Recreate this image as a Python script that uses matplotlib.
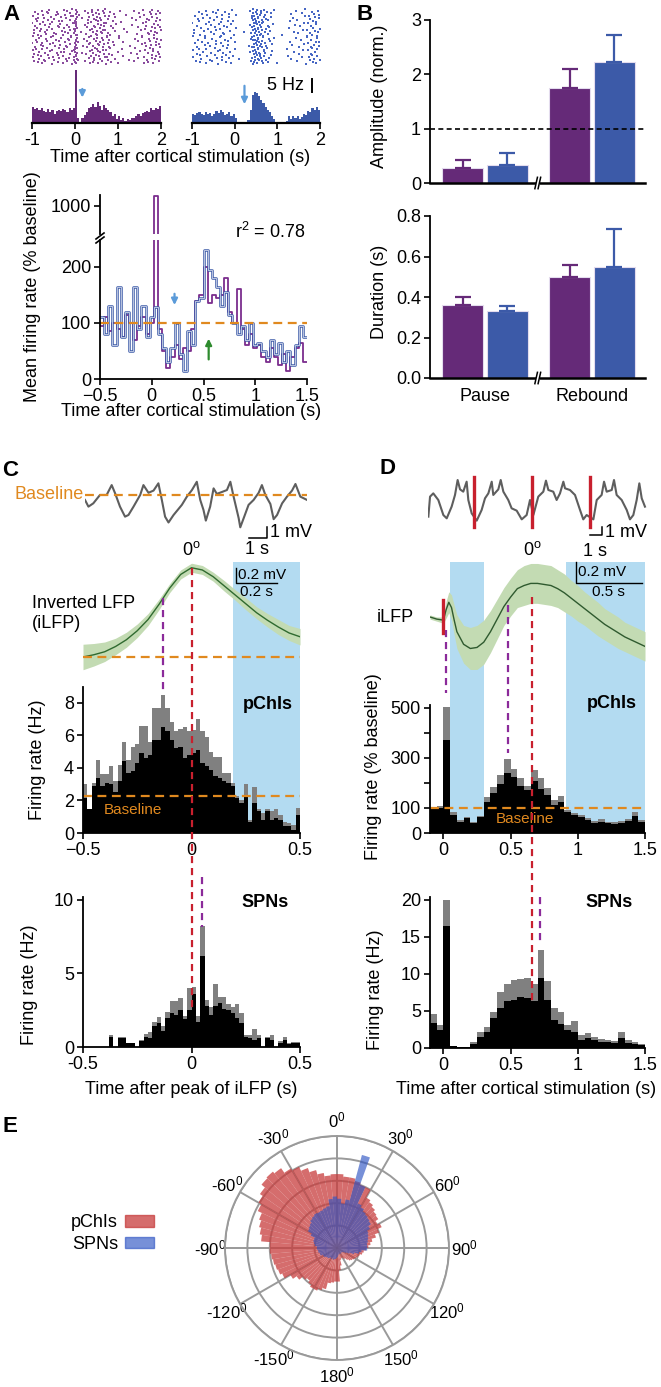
import numpy as np
import matplotlib
matplotlib.use('Agg')
import matplotlib.pyplot as plt
from matplotlib.patches import Rectangle, Patch
from matplotlib.lines import Line2D
from matplotlib.transforms import blended_transform_factory

plt.rcParams['font.family'] = ['Liberation Sans', 'DejaVu Sans']
plt.rcParams['font.size'] = 13
plt.rcParams['mathtext.default'] = 'regular'
plt.rcParams['axes.linewidth'] = 1.3
plt.rcParams['axes.facecolor'] = 'none'
plt.rcParams['xtick.major.width'] = 1.2
plt.rcParams['ytick.major.width'] = 1.2
plt.rcParams['xtick.major.size'] = 4
plt.rcParams['ytick.major.size'] = 4
plt.rcParams['xtick.major.pad'] = 2.5
plt.rcParams['ytick.major.pad'] = 2.5

# colours
PURPLE = '#652a78'
PURPLE_L = '#7b2d8e'
BLUE = '#3c5aa8'
RASTER_P = '#8a4c9e'
RASTER_B = '#4666c4'
ARROW_B = '#5b9bd9'
ORANGE = '#e0891f'
GREEN = '#2e8b2e'
RED = '#c8202e'
DPURPLE = '#8b2a9a'
SHADE = '#b3dbf1'
GRAY = '#808080'

# ---------------- data ----------------
# A: PSTHs (Hz), 0.05 s bins from -1 s
purple_a = [6.0, 5.2, 5.8, 5.0, 5.5, 4.5, 4.0, 5.2, 4.2, 4.8,
            3.5, 4.5, 5.0, 4.6, 5.3, 4.8, 4.0, 5.5, 4.8, 5.8,
            20.0, 2.0, 0.5, 2.0, 3.0, 4.2, 5.5, 6.0, 7.3, 6.0,
            8.0, 6.5, 5.0, 6.8, 5.5, 4.8, 4.2, 2.8, 3.5, 1.5,
            2.5, 1.2, 1.8, 0.8, 1.5, 1.0, 2.0, 1.8, 2.5, 3.2,
            2.8, 3.8, 4.0, 4.5, 4.2, 5.5, 5.0, 5.8, 5.2, 6.3]
blue_a = [3.5, 3.0, 3.8, 4.0, 3.2, 3.0, 4.2, 3.5, 3.8, 2.8,
          3.5, 4.5, 3.8, 5.0, 4.2, 3.0, 3.5, 4.0, 2.5, 3.2,
          1.8, 0.4, 0.2, 0.0, 0.5, 0.3, 1.0, 5.0, 10.5, 11.5,
          11.2, 10.0, 8.5, 7.5, 6.0, 5.0, 4.0, 2.5, 1.5, 0.5,
          0.3, 0.0, 0.5, 0.0, 0.8, 2.5, 1.5, 2.8, 2.0, 2.5,
          1.5, 2.2, 3.5, 3.0, 4.5, 4.0, 5.5, 4.8, 6.0, 5.0]

# A bottom: mean firing rate (% baseline), 0.04 s bins from -0.5 s
purple_b = [95, 110, 85, 100, 90, 75, 115, 100, 70, 95, 110, 80, 100, 1040,
            90, 50, 20, 40, 60, 35, 55, 50, 90, 140, 150, 200, 135, 150, 145, 150,
            180, 120, 100, 160, 90, 60, 80, 55, 60, 40, 30, 55, 40, 25, 45, 15,
            40, 55, 65, 30]
blue_b = [110, 80, 130, 60, 165, 75, 120, 50, 165, 90, 130, 75, 110,
          128, 80, 55, 30, 55, 100, 45, 15, 85, 60, 140, 145, 230, 195, 180, 165,
          130, 155, 115, 100, 80, 95, 70, 100, 60, 65, 50, 40, 70, 45, 65, 30,
          50, 25, 60, 95, 75]

# B: pause / rebound
amp_purple = [0.27, 1.75]
amp_purple_err = [0.15, 0.35]
amp_blue = [0.34, 2.23]
amp_blue_err = [0.21, 0.50]
dur_purple = [0.36, 0.50]
dur_purple_err = [0.04, 0.06]
dur_blue = [0.33, 0.55]
dur_blue_err = [0.025, 0.185]
groups = ['Pause', 'Rebound']

# C: example LFP trace (s, mV relative to baseline)
c_trace_t = [0.00, 0.19, 0.46, 0.83, 1.20, 1.48, 1.67, 1.94, 2.22, 2.41, 2.69, 3.06,
             3.24, 3.52, 3.80, 4.07, 4.26, 4.44, 4.63, 4.91, 5.37, 5.65, 5.93, 6.20,
             6.39, 6.57, 6.70, 6.94, 7.13, 7.31, 7.59, 7.87, 8.06, 8.24, 8.52, 8.61,
             8.83, 9.07, 9.35, 9.63, 9.81, 10.0, 10.28, 10.46, 10.65, 10.93, 11.2,
             11.48, 11.67, 11.94, 12.31]
c_trace_v = [-0.45, -1.06, -0.76, 0.0, 0.0, 0.9, 0.15, -1.06, -1.97, -1.82, -1.06, 0.0,
             0.9, 0.2, 0.4, 1.06, -0.45, -1.97, -2.5, -1.82, -0.9, -0.15, 0.45, 1.2,
             -0.45, -1.36, -2.33, -1.06, 0.6, 0.1, 0.27, 0.45, 1.2, -0.15, -2.1, -2.94,
             -1.97, -0.9, -0.45, 0.2, 0.9, 0.0, -0.82, -2.2, -1.82, -0.76, -0.15,
             0.4, 1.0, -0.15, -0.45]

# C: spike-triggered iLFP (mV) vs time from iLFP peak
c_lfp_t = [-0.5, -0.45, -0.4, -0.35, -0.3, -0.25, -0.2, -0.15, -0.1, -0.05, 0.0,
           0.05, 0.1, 0.15, 0.2, 0.25, 0.3, 0.35, 0.4, 0.45, 0.5]
c_lfp_v = [0.0, 0.03, 0.07, 0.14, 0.23, 0.35, 0.5, 0.7, 0.92, 1.1, 1.19,
           1.16, 1.07, 0.95, 0.83, 0.71, 0.59, 0.49, 0.4, 0.32, 0.27]
c_lfp_sem = [0.17, 0.15, 0.13, 0.11, 0.1, 0.09, 0.08, 0.07, 0.06, 0.06, 0.06,
             0.06, 0.06, 0.07, 0.07, 0.08, 0.08, 0.09, 0.1, 0.1, 0.11]

# C: pChI and SPN histograms (Hz), 0.02 s bins from -0.5 s
c_pchi_all = [3.0, 1.45, 3.05, 4.5, 3.6, 3.6, 4.1, 3.2, 4.2, 5.6,
              4.5, 5.3, 5.5, 6.6, 6.6, 5.6, 7.7, 7.7, 8.5, 7.7,
              6.8, 6.25, 6.4, 6.5, 6.25, 6.35, 7.0, 6.25, 5.9, 5.0,
              4.7, 4.7, 3.7, 3.7, 3.1, 2.25, 2.05, 3.0, 0.8, 2.8,
              1.5, 1.25, 1.45, 1.35, 1.45, 1.1, 0.7, 0.6, 0.5, 1.55]
c_pchi_sub = [2.15, 1.45, 2.9, 3.4, 2.9, 3.1, 3.0, 2.5, 3.2, 4.4,
              3.7, 3.8, 4.3, 4.9, 4.6, 4.8, 5.75, 5.75, 6.55, 6.25,
              5.75, 5.2, 5.3, 4.6, 4.8, 4.9, 5.1, 4.3, 4.1, 3.9,
              3.5, 3.4, 3.2, 3.1, 2.9, 2.15, 1.85, 2.25, 0.7, 1.85,
              1.35, 0.8, 1.35, 0.8, 0.9, 0.8, 0.4, 0.4, 0.2, 1.1]
c_spn_all = [0, 0, 0, 0, 0, 0, 0.85, 0, 0.65, 0.65,
             0.3, 0.3, 0, 0.5, 0.9, 1.05, 1.7, 2.05, 1.4, 2.4,
             3.1, 3.15, 3.3, 2.1, 4.0, 4.1, 2.1, 8.2, 3.2, 2.7,
             4.3, 3.4, 3.4, 2.9, 2.7, 2.9, 2.3, 0.8, 0.8, 1.25,
             0.8, 0, 0.7, 0.8, 0, 0.4, 0.7, 0.25, 0.35, 0.35]
c_spn_sub = [0, 0, 0, 0, 0, 0, 0.7, 0, 0.6, 0.6,
             0.3, 0.3, 0, 0.4, 0.7, 0.6, 1.4, 1.6, 1.1, 2.0,
             2.3, 2.2, 2.5, 1.9, 2.5, 3.6, 1.7, 6.2, 2.8, 2.2,
             2.8, 3.0, 2.6, 2.5, 2.3, 2.0, 1.6, 0.7, 0.6, 0.5,
             0.6, 0, 0.6, 0.5, 0, 0.3, 0.5, 0.2, 0.3, 0.3]

# D: example LFP trace with stimuli (s, mV)
d_trace_t = [0.03, 0.17, 0.44, 0.86, 1.28, 1.56, 1.97, 2.25, 2.47, 2.67, 2.94, 3.22,
             3.36, 3.64, 4.06, 4.47, 4.75, 5.03, 5.31, 5.44, 5.86, 6.06, 6.28, 6.69,
             6.97, 7.39, 7.81, 8.22, 8.5, 8.78, 9.19, 9.61, 9.83, 10.03, 10.44, 10.72,
             11.0, 11.28, 11.42, 11.83, 12.25, 12.67, 12.94, 13.22, 13.78, 14.06, 14.47,
             14.67, 14.89, 15.31, 15.5, 15.72, 16.14, 16.56, 16.83, 17.11, 17.39, 17.61,
             17.81, 18.08]
d_trace_v = [-2.08, 0.42, 0.83, 0.0, -1.88, -2.29, -0.83, 0.63, 2.5, 1.33, 1.04, 2.29,
             0.0, -1.67, -2.58, -1.25, 0.21, 0.83, 2.29, 0.63, 1.33, 2.5, 1.04, 0.0,
             -1.04, -1.33, -2.42, -1.88, 0.0, -1.88, 0.42, 1.04, 2.42, 1.25, 1.04, 0.0,
             0.83, 2.29, 1.46, 1.25, 0.63, -1.25, -2.42, -1.88, -2.42, 0.0, 0.63,
             2.29, 1.04, 1.25, 2.5, 0.63, 0.0, -1.25, -2.42, -1.88, 0.0, 2.08,
             0.21, -0.83]
d_stim_t = [3.86, 8.69, 13.53]

# D: stimulus-triggered iLFP (mV)
d_lfp_t = [-0.1, -0.05, 0.0, 0.02, 0.04, 0.06, 0.08, 0.1, 0.15, 0.2, 0.25, 0.3,
           0.35, 0.4, 0.45, 0.5, 0.55, 0.6, 0.65, 0.7, 0.75, 0.8, 0.85, 0.9,
           0.95, 1.0, 1.05, 1.1, 1.15, 1.2, 1.25, 1.3, 1.35, 1.4, 1.45, 1.5]
d_lfp_v = [0.0, -0.02, -0.03, 0.07, 0.14, 0.09, -0.03, -0.14, -0.26, -0.3, -0.29, -0.24,
           -0.14, -0.02, 0.1, 0.19, 0.27, 0.3, 0.32, 0.32, 0.31, 0.3, 0.27, 0.23,
           0.18, 0.13, 0.08, 0.03, -0.02, -0.07, -0.11, -0.15, -0.19, -0.22, -0.25, -0.28]
d_lfp_sem = [0.02, 0.02, 0.03, 0.08, 0.1, 0.12, 0.14, 0.16, 0.18, 0.2, 0.21, 0.21,
             0.2, 0.19, 0.18, 0.18, 0.18, 0.19, 0.19, 0.19, 0.19, 0.19, 0.18, 0.18,
             0.17, 0.17, 0.16, 0.16, 0.16, 0.15, 0.15, 0.15, 0.14, 0.14, 0.14, 0.14]

# D: histograms, 0.05 s bins from -0.1 s
d_pchi_all = [103, 108, 503, 85, 52, 65, 45, 68, 143, 185, 232, 295, 255, 219, 188, 252,
              219, 179, 132, 148, 92, 81, 72, 59, 49, 55, 45, 43, 49, 56, 83, 52]
d_pchi_sub = [99, 99, 372, 72, 45, 59, 39, 63, 125, 159, 195, 239, 223, 189, 172, 208,
              177, 152, 112, 125, 85, 72, 65, 52, 41, 45, 39, 36, 41, 48, 68, 45]
d_spn_all = [4.6, 3.1, 20.0, 0.27, 0.1, 0.1, 0.85, 2.1, 2.9, 4.9, 7.6, 8.7, 9.2, 9.3, 9.5, 8.7,
             13.2, 9.0, 5.4, 4.9, 3.1, 3.6, 1.75, 2.0, 1.5, 1.2, 1.1, 1.0, 2.2, 1.1, 0.85, 0.55]
d_spn_sub = [3.4, 2.4, 16.5, 0.27, 0.1, 0.1, 0.6, 1.5, 2.2, 4.0, 5.4, 6.3, 6.5, 6.9, 6.7, 6.3,
             9.5, 6.5, 3.8, 3.3, 2.4, 2.2, 1.1, 1.3, 1.1, 0.85, 0.8, 0.7, 1.3, 0.7, 0.6, 0.4]

# E: phase histograms, 5 deg bins starting at 0 deg (clockwise)
rose_pchi = [3.3, 3.2, 3.2, 3.1, 3.0, 3.0, 2.6, 2.5, 2.4, 2.3, 2.25, 2.1,
             2.2, 2.0, 1.8, 1.6, 1.5, 1.4, 1.3, 1.2, 1.15, 1.05, 1.0, 0.95,
             0.9, 0.85, 0.8, 0.7, 0.6, 0.55, 0.5, 0.5, 0.55, 0.8, 1.0, 1.5,
             1.5, 1.55, 1.6, 1.9, 2.0, 2.1, 2.1, 2.0, 1.9, 2.0, 2.2, 2.4,
             2.7, 2.8, 2.85, 2.9, 2.95, 3.0, 3.0, 3.4, 3.5, 3.6, 3.7, 3.9,
             4.05, 4.2, 4.4, 4.45, 4.35, 4.1, 4.0, 3.8, 3.6, 3.4, 3.25, 3.3]
rose_spn = [2.2, 2.0, 2.2, 4.3, 3.0, 2.2, 2.1, 2.0, 1.95, 1.9, 1.85, 1.7,
            1.55, 1.5, 1.45, 1.4, 1.35, 1.35, 1.35, 1.1, 1.0, 0.8, 0.6, 0.45,
            0.35, 0.3, 0.3, 0.25, 0.3, 0.3, 0.25, 0.3, 0.3, 0.3, 0.35, 0.4,
            0.45, 0.5, 0.5, 0.55, 0.5, 0.55, 0.5, 0.55, 0.6, 0.6, 0.65, 0.7,
            0.7, 0.8, 0.8, 0.85, 0.85, 0.9, 0.9, 1.0, 1.05, 1.1, 1.1, 1.3,
            1.5, 1.55, 1.6, 1.7, 1.75, 1.8, 1.78, 1.8, 1.85, 1.9, 2.2, 2.3]
phase_labels = ['0', '30', '60', '90', '120', '150', '180', '-150', '-120', '-90', '-60', '-30']

# ---------------- figure ----------------
W, H = 661, 1387
fig = plt.figure(figsize=(W / 100, H / 100), dpi=100)
fig.patch.set_facecolor('white')


def fx(x):
    return x / W


def fy(y):
    return 1 - y / H


def add_ax(l, t, r, b, **kw):
    return fig.add_axes([l / W, 1 - b / H, (r - l) / W, (b - t) / H], **kw)


def only_spines(ax, keep):
    for side in ['left', 'right', 'top', 'bottom']:
        ax.spines[side].set_visible(side in keep)


def ylab(x, y, s):
    fig.text(fx(x), fy(y), s, rotation=90, ha='center', va='center')


def vdash(ax, x, ytop, ybot, color):
    tr = blended_transform_factory(ax.transData, fig.transFigure)
    fig.add_artist(Line2D([x, x], [fy(ytop), fy(ybot)], transform=tr, color=color,
                          lw=1.6, dashes=(3.2, 2.2), zorder=10))


def vshade(ax, x0, x1, ytop, ybot):
    tr = blended_transform_factory(ax.transData, fig.transFigure)
    fig.add_artist(Rectangle((x0, fy(ybot)), x1 - x0, fy(ytop) - fy(ybot), transform=tr,
                             facecolor=SHADE, lw=0, zorder=-1))


def halton(k, base):
    f, r = 1.0, 0.0
    while k > 0:
        f /= base
        r += f * (k % base)
        k //= base
    return r


def raster_from_hist(edges, rates, bw, per_hz, ntrials):
    # lay each bin's spikes out over the trials (Halton layout, no randomness)
    xs, ys = [], []
    k = 0
    for e, r in zip(edges, rates):
        for j in range(int(round(r * per_hz))):
            k += 1
            xs.append(e + bw * halton(k, 3))
            ys.append(ntrials * halton(k, 2))
    return xs, ys


def stacked_hist(ax, edges, bw, total, sub):
    ax.bar(edges, total, width=bw, align='edge', color=GRAY, lw=0)
    ax.bar(edges, sub, width=bw, align='edge', color='black', lw=0)


MINUS = '\u2212'

# ---- panel A top
edges_a = np.arange(len(purple_a)) * 0.05 - 1.0
for (l, r), rates, col, dcol in [((32, 161), purple_a, PURPLE, RASTER_P),
                                 ((192, 320), blue_a, BLUE, RASTER_B)]:
    axr = add_ax(l, 8, r, 65)
    xs, ys = raster_from_hist(edges_a, rates, 0.05, 1.4, 28)
    axr.scatter(xs, ys, s=1.4, color=dcol, marker='s', lw=0)
    axr.set_xlim(-1, 2)
    axr.set_ylim(-0.5, 28.5)
    axr.axis('off')
    axh = add_ax(l, 67, r, 123)
    axh.bar(edges_a, rates, width=0.05, align='edge', color=col, lw=0)
    axh.set_xlim(-1, 2)
    axh.set_ylim(0, 21)
    only_spines(axh, ['bottom'])
    axh.spines['bottom'].set_linewidth(1.6)
    axh.set_yticks([])
    axh.set_xticks([-1, 0, 1, 2])
    axh.set_xticklabels(['-1', '0', '1', '2'])
    if col == PURPLE:
        axh.annotate('', xy=(0.17, 8.5), xytext=(0.17, 13.8),
                     arrowprops=dict(arrowstyle='-|>', color=ARROW_B, lw=1.6, mutation_scale=9))
    else:
        axh.annotate('', xy=(0.23, 6.0), xytext=(0.23, 15.0),
                     arrowprops=dict(arrowstyle='-|>', color=ARROW_B, lw=1.6, mutation_scale=9))
        axh.plot([1.81, 1.81], [11.6, 16.6], color='black', lw=1.4, clip_on=False)
        axh.text(1.63, 14.1, '5 Hz', ha='right', va='center')
fig.text(fx(180), fy(157), 'Time after cortical stimulation (s)', ha='center', va='center')
fig.text(fx(3), fy(14), 'A', fontsize=16, fontweight='bold', va='center')

# ---- panel A bottom (broken y axis)
edges_b = np.arange(len(purple_b)) * 0.04 - 0.5
x_step = np.append(edges_b, 1.5)
axl = add_ax(100, 240, 307, 379)
axu = add_ax(100, 195, 307, 234)
for ax in [axl, axu]:
    ax.step(x_step, np.append(purple_b, purple_b[-1]), where='post', color=PURPLE_L, lw=1.3)
    ax.step(x_step, np.append(blue_b, blue_b[-1]), where='post', color=BLUE, lw=1.8)
    ax.step(x_step, np.append(blue_b, blue_b[-1]), where='post', color='white', lw=0.45)
    ax.set_xlim(-0.5, 1.5)
axl.set_ylim(0, 248)
axu.set_ylim(880, 1045)
only_spines(axl, ['left', 'bottom'])
only_spines(axu, ['left'])
axu.set_xticks([])
axu.set_yticks([1000])
axl.set_yticks([0, 100, 200])
axl.set_xticks([-0.5, 0, 0.5, 1, 1.5])
axl.set_xticklabels([MINUS + '0.5', '0', '0.5', '1', '1.5'])
axl.axhline(100, color=ORANGE, lw=1.6, dashes=(4, 2.5))
axl.annotate('', xy=(0.22, 127), xytext=(0.22, 157),
             arrowprops=dict(arrowstyle='-|>', color=ARROW_B, lw=1.6, mutation_scale=9))
axl.annotate('', xy=(0.55, 77), xytext=(0.55, 30),
             arrowprops=dict(arrowstyle='-|>', color=GREEN, lw=1.6, mutation_scale=9))
for dy in [0, 4]:
    fig.add_artist(Line2D([fx(96), fx(104)], [fy(239 + dy), fy(233 + dy)], color='black', lw=1.2))
fig.text(fx(305), fy(232), 'r$^2$ = 0.78', ha='right', va='center')
ylab(33, 287, 'Mean firing rate (% baseline)')
fig.text(fx(191), fy(412), 'Time after cortical stimulation (s)', ha='center', va='center')

# ---- panel B
gx = np.arange(len(groups))
for (t, b), pv, pe, bv, be, ymax, yt, ytl, lab in [
        ((20, 183), amp_purple, amp_purple_err, amp_blue, amp_blue_err, 3, [0, 1, 2, 3],
         ['0', '1', '2', '3'], 'Amplitude (norm.)'),
        ((216, 378), dur_purple, dur_purple_err, dur_blue, dur_blue_err, 0.8,
         [0, 0.2, 0.4, 0.6, 0.8], ['0.0', '0.2', '0.4', '0.6', '0.8'], 'Duration (s)')]:
    ax = add_ax(430, t, 645, b)
    for off, vals, errs, col in [(-0.21, pv, pe, PURPLE), (0.21, bv, be, BLUE)]:
        ax.bar(gx + off, vals, 0.39, color=col, edgecolor='#e4dcee', lw=0.8,
               yerr=[np.zeros(len(errs)), errs],
               error_kw=dict(ecolor=col, capsize=5.5, elinewidth=1.6, capthick=1.6))
    ax.set_xlim(-0.514, 1.495)
    ax.set_ylim(0, ymax)
    only_spines(ax, ['left', 'bottom'])
    ax.spines['bottom'].set_linewidth(1.8)
    ax.set_yticks(yt)
    ax.set_yticklabels(ytl)
    ax.tick_params(axis='x', length=0, pad=7)
    if lab == 'Duration (s)':
        ax.set_xticks(gx)
        ax.set_xticklabels(groups)
    else:
        ax.set_xticks([])
        ax.axhline(1, color='black', lw=1.2, dashes=(3, 2))
    trb = blended_transform_factory(ax.transData, ax.transAxes)
    ax.add_patch(Rectangle((0.475, -0.03), 0.04, 0.06, transform=trb, facecolor='white',
                           lw=0, clip_on=False, zorder=5))
    for xb in [0.478, 0.508]:
        ax.plot([xb - 0.012, xb + 0.012], [-0.035, 0.035], transform=trb, color='black',
                lw=1.1, clip_on=False, zorder=6)
    ylab(380, (t + b) / 2 - 5, lab)
fig.text(fx(356), fy(14), 'B', fontsize=16, fontweight='bold', va='center')

# ---- panel C
axct = add_ax(85, 470, 307, 560)
axct.plot(c_trace_t, c_trace_v, color='#5e5e5e', lw=1.5)
axct.axhline(0, color=ORANGE, lw=1.6, dashes=(4, 2.5))
axct.set_xlim(0, 12.31)
axct.set_ylim(-5.91, 2.27)
axct.axis('off')
axct.text(-0.05, 0, 'Baseline', color=ORANGE, ha='right', va='center')
axct.plot([9.1, 10.1, 10.1], [-3.9, -3.9, -2.9], color='black', lw=1.1)
axct.text(10.25, -3.45, '1 mV', ha='left', va='center')
axct.text(9.55, -5.0, '1 s', ha='center', va='center')

axcl = add_ax(83, 560, 300, 672)
lo = np.array(c_lfp_v) - np.array(c_lfp_sem)
hi = np.array(c_lfp_v) + np.array(c_lfp_sem)
axcl.fill_between(c_lfp_t, lo, hi, color='#c3dbb3', lw=0)
axcl.plot(c_lfp_t, c_lfp_v, color='#2f6a2f', lw=1.0)
axcl.axhline(0, color=ORANGE, lw=1.6, dashes=(4, 2.5))
axcl.set_xlim(-0.5, 0.5)
axcl.set_ylim(-0.2, 1.293)
axcl.axis('off')
axcl.plot([0.205, 0.205, 0.394], [1.187, 0.987, 0.987], color='black', lw=1.0)
axcl.text(0.215, 1.09, '0.2 mV', fontsize=11, ha='left', va='center')
axcl.text(0.3, 0.87, '0.2 s', fontsize=11, ha='center', va='center')
axcl.text(0.0, 1.3, '0$^o$', ha='center', va='bottom')
fig.text(fx(32), fy(603), 'Inverted LFP', ha='left', va='center')
fig.text(fx(32), fy(623), '(iLFP)', ha='left', va='center')

edges_c = np.arange(len(c_pchi_all)) * 0.02 - 0.5
axch = add_ax(83, 687, 300, 833)
stacked_hist(axch, edges_c, 0.02, c_pchi_all, c_pchi_sub)
axch.axhline(2.3, color=ORANGE, lw=1.6, dashes=(4, 2.5))
axch.set_xlim(-0.5, 0.5)
axch.set_ylim(0, 8.98)
only_spines(axch, ['left', 'bottom'])
axch.set_yticks([0, 2, 4, 6, 8])
axch.set_xticks([-0.5, 0, 0.5])
axch.set_xticklabels([MINUS + '0.5', '0', '0.5'])
axch.text(-0.27, 1.4, 'Baseline', color=ORANGE, fontsize=11, ha='center', va='center')
axch.text(0.35, 7.9, 'pChIs', fontweight='bold', ha='center', va='center')
ylab(38, 760, 'Firing rate (Hz)')

axcs = add_ax(83, 897, 300, 1047)
stacked_hist(axcs, edges_c, 0.02, c_spn_all, c_spn_sub)
axcs.set_xlim(-0.5, 0.5)
axcs.set_ylim(0, 10.2)
only_spines(axcs, ['left', 'bottom'])
axcs.set_yticks([0, 5, 10])
axcs.set_xticks([-0.5, 0, 0.5])
axcs.set_xticklabels(['-0.5', '0', '0.5'])
axcs.text(0.34, 9.8, 'SPNs', fontweight='bold', ha='center', va='center')
ylab(30, 985, 'Firing rate (Hz)')
fig.text(fx(191), fy(1089), 'Time after peak of iLFP (s)', ha='center', va='center')

vshade(axch, 0.19, 0.5, 562, 833)
vdash(axch, -0.13, 598, 692, DPURPLE)
vdash(axch, 0.0, 568, 1008, RED)
vdash(axcs, 0.05, 877, 927, DPURPLE)
fig.text(fx(2), fy(470), 'C', fontsize=16, fontweight='bold', va='center')

# ---- panel D
axdt = add_ax(428, 470, 650, 560)
axdt.plot(d_trace_t, d_trace_v, color='#5e5e5e', lw=1.5)
for ts in d_stim_t:
    axdt.plot([ts, ts], [-3.4, 2.9], color=RED, lw=2.4)
axdt.set_xlim(0, 18.5)
axdt.set_ylim(-7.5, 3.75)
axdt.axis('off')
axdt.plot([13.53, 14.53, 14.53], [-4.4, -4.4, -3.4], color='black', lw=1.1)
axdt.text(14.75, -4.1, '1 mV', ha='left', va='center')
axdt.text(13.9, -6.4, '1 s', ha='center', va='center')

axdl = add_ax(430, 560, 645, 672)
lo = np.array(d_lfp_v) - np.array(d_lfp_sem)
hi = np.array(d_lfp_v) + np.array(d_lfp_sem)
axdl.fill_between(d_lfp_t, lo, hi, color='#c3dbb3', lw=0)
axdl.plot(d_lfp_t, d_lfp_v, color='#2f5a2f', lw=1.0)
axdl.plot([0, 0], [-0.152, 0.162], color=RED, lw=2.4)
axdl.set_xlim(-0.1, 1.5)
axdl.set_ylim(-0.524, 0.543)
axdl.axis('off')
axdl.plot([0.985, 0.985, 1.478], [0.524, 0.324, 0.324], color='black', lw=1.0)
axdl.text(1.0, 0.425, '0.2 mV', fontsize=11, ha='left', va='center')
axdl.text(1.23, 0.238, '0.5 s', fontsize=11, ha='center', va='center')
axdl.text(0.66, 0.55, '0$^o$', ha='center', va='bottom')
fig.text(fx(377), fy(618), 'iLFP', ha='left', va='center')

edges_d = np.arange(len(d_pchi_all)) * 0.05 - 0.1
axdh = add_ax(430, 705, 645, 833)
stacked_hist(axdh, edges_d, 0.05, d_pchi_all, d_pchi_sub)
axdh.axhline(100, color=ORANGE, lw=1.6, dashes=(4, 2.5))
axdh.set_xlim(-0.1, 1.5)
axdh.set_ylim(0, 512)
only_spines(axdh, ['left', 'bottom'])
axdh.set_yticks([0, 100, 200, 300, 400, 500])
axdh.set_yticklabels(['0', '100', '', '300', '', '500'])
axdh.set_xticks([0, 0.5, 1, 1.5])
axdh.set_xticklabels(['0', '0.5', '1', '1.5'])
axdh.text(0.61, 56, 'Baseline', color=ORANGE, fontsize=11, ha='center', va='center')
axdh.text(1.25, 520, 'pChIs', fontweight='bold', ha='center', va='center')
ylab(373, 767, 'Firing rate (% baseline)')

axds = add_ax(430, 897, 645, 1048)
stacked_hist(axds, edges_d, 0.05, d_spn_all, d_spn_sub)
axds.set_xlim(-0.1, 1.5)
axds.set_ylim(0, 20.4)
only_spines(axds, ['left', 'bottom'])
axds.set_yticks([0, 5, 10, 15, 20])
axds.set_xticks([0, 0.5, 1, 1.5])
axds.set_xticklabels(['0', '0.5', '1', '1.5'])
axds.text(1.23, 19.6, 'SPNs', fontweight='bold', ha='center', va='center')
ylab(375, 990, 'Firing rate (Hz)')
fig.text(fx(526), fy(1089), 'Time after cortical stimulation (s)', ha='center', va='center')

vshade(axdh, 0.05, 0.3, 562, 833)
vshade(axdh, 0.91, 1.5, 562, 833)
vdash(axdh, 0.02, 630, 693, DPURPLE)
vdash(axdh, 0.48, 605, 753, DPURPLE)
vdash(axdh, 0.657, 597, 1002, RED)
vdash(axds, 0.72, 897, 945, DPURPLE)
fig.text(fx(380), fy(468), 'D', fontsize=16, fontweight='bold', va='center')

# ---- panel E
axe = add_ax(225, 1136, 449, 1360, projection='polar')
axe.set_theta_zero_location('N')
axe.set_theta_direction(-1)
theta = np.deg2rad(np.arange(len(rose_pchi)) * 5.0)
width = np.deg2rad(5.0)
axe.bar(theta, rose_pchi, width=width, align='edge', color=(0.78, 0.235, 0.235), alpha=0.75, lw=0)
axe.bar(theta, rose_spn, width=width, align='edge', color=(0.184, 0.333, 0.765), alpha=0.65, lw=0)
axe.set_ylim(0, 5)
axe.set_rgrids([1, 2, 3, 4, 5], labels=[])
axe.set_thetagrids(np.arange(0, 360, 30), [s + '$^0$' for s in phase_labels], fontsize=12)
axe.grid(color='#9a9a9a', lw=1.4)
axe.spines['polar'].set_color('#9a9a9a')
axe.spines['polar'].set_linewidth(1.4)
axe.set_axisbelow(True)
axe.tick_params(axis='x', pad=0)
fig.legend(handles=[Patch(color=(0.78, 0.235, 0.235), alpha=0.75),
                    Patch(color=(0.184, 0.333, 0.765), alpha=0.65)],
           labels=['pChIs', 'SPNs'], loc='upper left', bbox_to_anchor=(fx(55), fy(1198)),
           frameon=False, markerfirst=False, handlelength=1.6, handleheight=0.6,
           labelspacing=0.25, handletextpad=0.4, fontsize=13)
fig.text(fx(2), fy(1127), 'E', fontsize=16, fontweight='bold', va='center')

fig.savefig('out.png', dpi=100, facecolor='white')
